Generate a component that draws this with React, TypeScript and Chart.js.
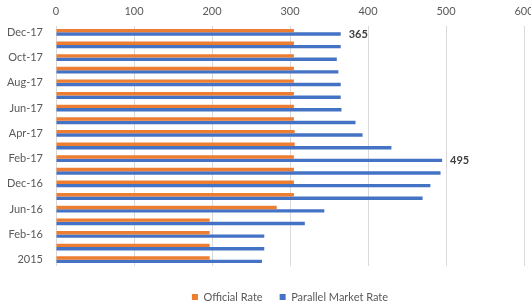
import { useEffect, useRef } from 'react';
import { Chart, registerables } from 'chart.js';

Chart.register(...registerables);

const categories = ['Dec-17', 'Nov-17', 'Oct-17', 'Sep-17', 'Aug-17', 'Jul-17', 'Jun-17', 'May-17', 'Apr-17', 'Mar-17', 'Feb-17', 'Jan-17', 'Dec-16', 'Sep-16', 'Jun-16', 'Apr-16', 'Feb-16', 'Dec-15', '2015'];
const officialRate = [305, 305, 305, 305, 305, 305, 305, 305, 306, 306, 305, 305, 305, 305, 283, 197, 197, 197, 197];
const parallelRate = [365, 365, 360, 362, 365, 365, 366, 384, 393, 430, 495, 493, 480, 470, 344, 319, 267, 267, 264];
const labeledIndices = [0, 10];
const xMin = 0;
const xMax = 600;
const xStep = 100;

const FONT = 'Lato';

const valueLabels = {
  id: 'valueLabels',
  afterDatasetsDraw(chart: any) {
    const meta = chart.getDatasetMeta(1);
    const ctx = chart.ctx;
    ctx.save();
    ctx.font = `bold 11px ${FONT}`;
    ctx.fillStyle = '#404040';
    ctx.textBaseline = 'middle';
    ctx.textAlign = 'left';
    labeledIndices.forEach((i) => {
      const el = meta.data[i];
      if (el) ctx.fillText(String(parallelRate[i]), el.x + 8, el.y);
    });
    ctx.restore();
  },
};

export default function App() {
  const ref = useRef<HTMLCanvasElement | null>(null);

  useEffect(() => {
    if (!ref.current) return;
    const chart = new Chart(ref.current, {
      type: 'bar',
      data: {
        labels: categories,
        datasets: [
          {
            label: 'Official Rate',
            data: officialRate,
            backgroundColor: '#ED7D31',
            borderWidth: 0,
            barPercentage: 1,
            categoryPercentage: 0.54,
          },
          {
            label: 'Parallel Market Rate',
            data: parallelRate,
            backgroundColor: '#4472C4',
            borderWidth: 0,
            barPercentage: 1,
            categoryPercentage: 0.54,
          },
        ],
      },
      options: {
        indexAxis: 'y',
        responsive: false,
        animation: false,
        layout: { padding: 0 },
        scales: {
          x: {
            position: 'top',
            min: xMin,
            max: xMax,
            ticks: {
              stepSize: xStep,
              color: '#595959',
              font: { family: FONT, size: 11 },
              padding: 8,
            },
            grid: { color: '#d9d9d9', lineWidth: 1, drawTicks: false },
            border: { display: false },
            afterFit: (s: any) => {
              s.height = 26;
              s.paddingLeft = 0;
              s.paddingRight = 7;
            },
          },
          y: {
            ticks: {
              autoSkip: false,
              callback: (_v: any, i: number) => (i % 2 === 0 ? categories[i] : ''),
              color: '#595959',
              font: { family: FONT, size: 11 },
              padding: 13,
            },
            grid: { display: false, drawTicks: false },
            border: { display: false },
            afterFit: (s: any) => {
              s.width = 56;
            },
          },
        },
        plugins: {
          legend: {
            position: 'bottom',
            fullSize: false,
            maxHeight: 39,
            title: {
              display: true,
              text: '',
              font: { size: 1 },
              padding: { top: 7.3, bottom: 0 },
            },
            labels: {
              boxWidth: 6,
              boxHeight: 6,
              padding: 17,
              color: '#595959',
              font: { family: FONT, size: 11 },
            },
          },
          tooltip: { enabled: false },
        },
      },
      plugins: [valueLabels],
    });
    return () => chart.destroy();
  }, []);

  return (
    <div style={{ position: 'absolute', left: 0, top: 0, width: 531, height: 305, background: '#fff' }}>
      <canvas ref={ref} width={531} height={305} style={{ display: 'block' }} />
    </div>
  );
}
